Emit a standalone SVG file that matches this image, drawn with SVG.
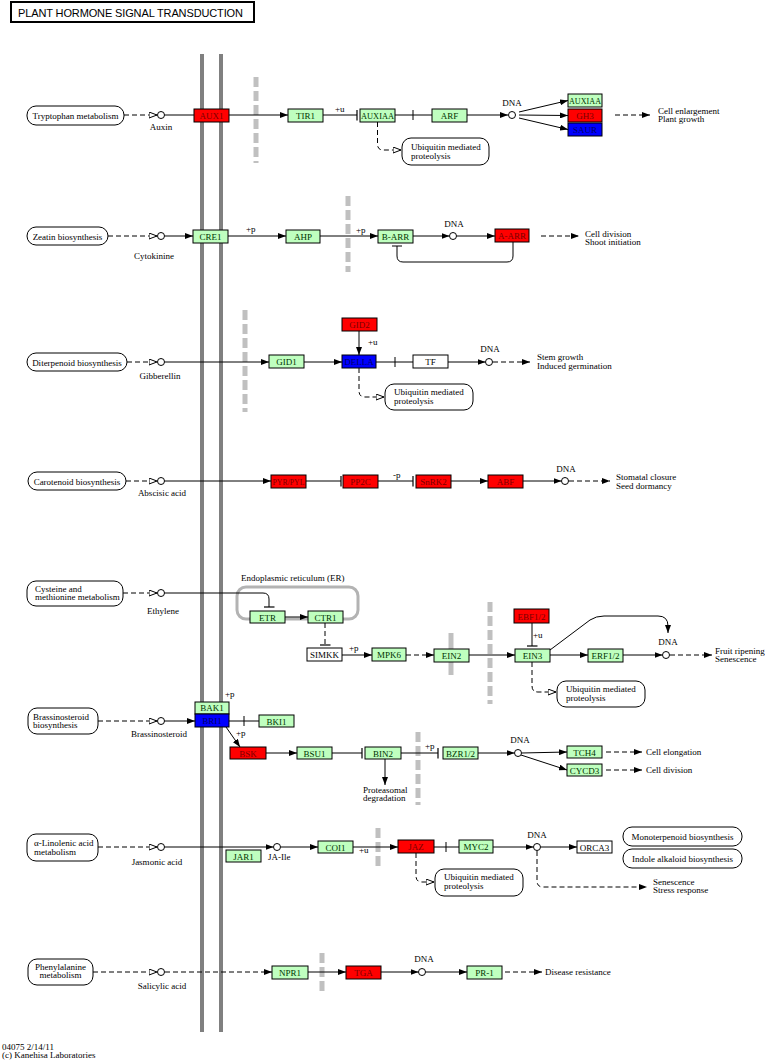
<svg xmlns="http://www.w3.org/2000/svg" width="765" height="1061" viewBox="0 0 765 1061">
<style>
text{font-family:"Liberation Serif","DejaVu Serif",serif;font-size:9px;fill:#000}
.c{text-anchor:middle}
.n{stroke:#000;stroke-width:1}
.g{fill:#bfffbf}.r{fill:#ff0000}.b{fill:#0000ff}.w{fill:#fff}
.tg{fill:#003300}.tr{fill:#7a0000}.tb{fill:#000066}
.m{fill:#fff;stroke:#000;stroke-width:1}
.l{stroke:#000;stroke-width:1;fill:none}
.d{stroke-dasharray:5 3}
.bar{stroke:#c0c0c0;stroke-width:5;stroke-dasharray:10 4;fill:none}
.sb{stroke:#c0c0c0;stroke-width:5;fill:none}
.mem{stroke:#808080;stroke-width:4}
.cp{fill:#fff;stroke:#000;stroke-width:1}
</style>
<defs>
<marker id="a" markerWidth="8" markerHeight="6" refX="8" refY="3" orient="auto" markerUnits="userSpaceOnUse"><path d="M0,0L8,3L0,6z" fill="#000"/></marker>
<marker id="o" markerWidth="9" markerHeight="7" refX="8.5" refY="3.5" orient="auto" markerUnits="userSpaceOnUse"><path d="M0.5,0.5L8.5,3.5L0.5,6.5z" fill="#fff" stroke="#000" stroke-width="1"/></marker>
<marker id="t" markerWidth="2" markerHeight="11" refX="1" refY="5.5" orient="auto" markerUnits="userSpaceOnUse"><path d="M1,0V11" stroke="#000" stroke-width="1.2"/></marker>
</defs>
<rect width="765" height="1061" fill="#fff"/>
<g id="title"><rect x="11" y="2" width="243" height="20" fill="#fff" stroke="#000" stroke-width="2"/><text x="18" y="16.5" style="font-family:'Liberation Sans',Arial,sans-serif;font-size:11px" textLength="225" lengthAdjust="spacing">PLANT HORMONE SIGNAL TRANSDUCTION</text></g>
<g id="membrane"><line class="mem" x1="202" y1="54" x2="202" y2="1032"/><line class="mem" x1="221" y1="54" x2="221" y2="1032"/></g>
<g id="barriers">
<line class="bar" x1="256" y1="77" x2="256" y2="163"/>
<line class="bar" x1="348" y1="196" x2="348" y2="272"/>
<line class="bar" x1="245" y1="310" x2="245" y2="412"/>
<line class="sb" x1="451" y1="633" x2="451" y2="675"/>
<line class="bar" x1="490" y1="602" x2="490" y2="704"/>
<line class="bar" x1="418" y1="732" x2="418" y2="805"/>
<line class="bar" x1="378" y1="828" x2="378" y2="868"/>
<line class="bar" x1="322" y1="953" x2="322" y2="993"/>
<rect x="237" y="587" width="121" height="32" rx="9" fill="none" stroke="#b3b3b3" stroke-width="3"/>
</g>
<g id="connectors">
<!-- row1 -->
<line class="l d" x1="124" y1="115" x2="157" y2="115" marker-end="url(#o)"/>
<line class="l" x1="164.5" y1="115" x2="288" y2="115" marker-end="url(#a)"/>
<line class="l" x1="323" y1="115" x2="357" y2="115" marker-end="url(#t)"/>
<line class="l" x1="395" y1="115" x2="432" y2="115"/><line class="l" x1="413" y1="110" x2="413" y2="120"/>
<line class="l" x1="467" y1="115" x2="508" y2="115" marker-end="url(#a)"/>
<line class="l" x1="519" y1="112" x2="568" y2="100.5" marker-end="url(#a)"/>
<line class="l" x1="519" y1="115" x2="568" y2="115.5" marker-end="url(#a)"/>
<line class="l" x1="519" y1="118" x2="568" y2="129.5" marker-end="url(#a)"/>
<line class="l d" x1="615" y1="115" x2="650" y2="115" marker-end="url(#a)"/>
<path class="l d" d="M377.5,122V144Q377.5,150 383,150H401" marker-end="url(#o)"/>
<!-- row2 -->
<line class="l d" x1="108" y1="236" x2="157" y2="236" marker-end="url(#o)"/>
<line class="l" x1="164.5" y1="236" x2="193" y2="236" marker-end="url(#a)"/>
<line class="l" x1="228" y1="236" x2="286" y2="236" marker-end="url(#a)"/>
<line class="l" x1="320" y1="236" x2="378" y2="236" marker-end="url(#a)"/>
<line class="l" x1="413" y1="236" x2="449.5" y2="236" marker-end="url(#a)"/>
<line class="l" x1="456.5" y1="236" x2="495" y2="236" marker-end="url(#a)"/>
<line class="l d" x1="541" y1="236" x2="579" y2="236" marker-end="url(#a)"/>
<path class="l" d="M513,242V256Q513,262 507,262H403Q397,262 397,256V246"/><line class="l" x1="392" y1="246" x2="402" y2="246"/>
<!-- row3 -->
<line class="l d" x1="127" y1="362" x2="157" y2="362" marker-end="url(#o)"/>
<line class="l" x1="164.5" y1="362" x2="269" y2="362" marker-end="url(#a)"/>
<line class="l" x1="304" y1="362" x2="342" y2="362" marker-end="url(#a)"/>
<line class="l" x1="359" y1="331" x2="359" y2="355" marker-end="url(#a)"/>
<line class="l" x1="376" y1="362" x2="413" y2="362"/><line class="l" x1="395" y1="357" x2="395" y2="367"/>
<line class="l" x1="448" y1="362" x2="485.5" y2="362" marker-end="url(#a)"/>
<line class="l d" x1="493" y1="362" x2="530" y2="362" marker-end="url(#a)"/>
<path class="l d" d="M359,368V391Q359,397 365,397H384" marker-end="url(#o)"/>
<!-- row4 -->
<line class="l d" x1="126" y1="481" x2="157" y2="481" marker-end="url(#o)"/>
<line class="l" x1="164.5" y1="481" x2="271" y2="481" marker-end="url(#a)"/>
<line class="l" x1="306" y1="481" x2="341" y2="481" marker-end="url(#t)"/>
<line class="l" x1="378" y1="481" x2="413" y2="481" marker-end="url(#t)"/>
<line class="l" x1="451" y1="481" x2="488" y2="481" marker-end="url(#a)"/>
<line class="l" x1="523" y1="481" x2="561.5" y2="481" marker-end="url(#a)"/>
<line class="l d" x1="569" y1="481" x2="610" y2="481" marker-end="url(#a)"/>
<!-- row5 -->
<line class="l d" x1="123" y1="593" x2="157" y2="593" marker-end="url(#o)"/>
<path class="l" d="M164.5,593H263Q269,593 269,599V607" marker-end="url(#t)"/>
<line class="l" x1="285" y1="617" x2="308" y2="617" stroke-width="2" marker-end="url(#a)"/>
<line class="l d" x1="325" y1="623" x2="325" y2="645" marker-end="url(#t)"/>
<line class="l" x1="342" y1="655" x2="372" y2="655" marker-end="url(#a)"/>
<line class="l d" x1="406" y1="655" x2="434" y2="655" marker-end="url(#a)"/>
<line class="l" x1="469" y1="655" x2="515" y2="655" marker-end="url(#a)"/>
<line class="l" x1="532" y1="623" x2="532" y2="646" marker-end="url(#t)"/>
<line class="l" x1="550" y1="655" x2="588" y2="655" marker-end="url(#a)"/>
<line class="l" x1="623" y1="655" x2="662.5" y2="655" marker-end="url(#a)"/>
<path class="l" d="M550,650L590,620Q596,616 604,616H658Q668,616 668,626V633" marker-end="url(#a)"/>
<line class="l d" x1="670" y1="655" x2="712" y2="655" marker-end="url(#a)"/>
<path class="l d" d="M532,662V686Q532,692 538,692H556" marker-end="url(#o)"/>
<!-- row6 -->
<line class="l d" x1="98" y1="721" x2="157" y2="721" marker-end="url(#o)"/>
<line class="l" x1="164.5" y1="721" x2="195" y2="721" marker-end="url(#a)"/>
<line class="l" x1="229" y1="721" x2="259" y2="721"/><line class="l" x1="244" y1="716" x2="244" y2="726"/>
<line class="l" x1="226" y1="727" x2="240" y2="747" marker-end="url(#a)"/>
<line class="l" x1="266" y1="753" x2="297" y2="753" marker-end="url(#a)"/>
<line class="l" x1="332" y1="753" x2="362" y2="753" marker-end="url(#t)"/>
<line class="l" x1="385" y1="759" x2="385" y2="785" marker-end="url(#a)"/>
<line class="l" x1="401" y1="753" x2="438" y2="753" marker-end="url(#t)"/>
<line class="l" x1="478" y1="753" x2="514.5" y2="753" marker-end="url(#a)"/>
<line class="l" x1="521.5" y1="753" x2="567" y2="752" marker-end="url(#a)"/>
<line class="l" x1="521" y1="755" x2="567" y2="770" marker-end="url(#a)"/>
<line class="l d" x1="606" y1="752" x2="642" y2="752" marker-end="url(#a)"/>
<line class="l d" x1="606" y1="770" x2="642" y2="770" marker-end="url(#a)"/>
<!-- row7 -->
<line class="l d" x1="98" y1="847" x2="157" y2="847" marker-end="url(#o)"/>
<line class="l" x1="164.5" y1="847" x2="273.5" y2="847" marker-end="url(#a)"/>
<line class="l" x1="280.5" y1="847" x2="318" y2="847" marker-end="url(#a)"/>
<line class="l" x1="353" y1="847" x2="398" y2="847" marker-end="url(#a)"/>
<line class="l" x1="434" y1="847" x2="459" y2="847"/><line class="l" x1="446" y1="842" x2="446" y2="852"/>
<line class="l" x1="493" y1="847" x2="533.5" y2="847" marker-end="url(#a)"/>
<line class="l" x1="540.5" y1="847" x2="577" y2="847" marker-end="url(#a)"/>
<path class="l d" d="M537,851V881Q537,887 543,887H647" marker-end="url(#a)"/>
<path class="l d" d="M416,853V876Q416,882 422,882H434" marker-end="url(#o)"/>
<!-- row8 -->
<line class="l d" x1="93" y1="972" x2="157" y2="972" marker-end="url(#o)"/>
<line class="l d" x1="165" y1="972" x2="272" y2="972" marker-end="url(#a)"/>
<line class="l" x1="308" y1="972" x2="346" y2="972" marker-end="url(#a)"/>
<line class="l" x1="381" y1="972" x2="418.5" y2="972" marker-end="url(#a)"/>
<line class="l" x1="425.5" y1="972" x2="467" y2="972" marker-end="url(#a)"/>
<line class="l d" x1="505" y1="972" x2="542" y2="972" marker-end="url(#a)"/>
</g>
<g id="compounds">
<circle class="cp" cx="161" cy="115" r="3.5"/><circle class="cp" cx="512" cy="115" r="3.5"/>
<circle class="cp" cx="161" cy="236" r="3.5"/><circle class="cp" cx="453" cy="236" r="3.5"/>
<circle class="cp" cx="161" cy="362" r="3.5"/><circle class="cp" cx="489" cy="362" r="3.5"/>
<circle class="cp" cx="161" cy="481" r="3.5"/><circle class="cp" cx="565" cy="481" r="3.5"/>
<circle class="cp" cx="161" cy="593" r="3.5"/><circle class="cp" cx="666" cy="655" r="3.5"/>
<circle class="cp" cx="161" cy="721" r="3.5"/><circle class="cp" cx="518" cy="753" r="3.5"/>
<circle class="cp" cx="161" cy="847" r="3.5"/><circle class="cp" cx="277" cy="847" r="3.5"/><circle class="cp" cx="537" cy="847" r="3.5"/>
<circle class="cp" cx="161" cy="972" r="3.5"/><circle class="cp" cx="422" cy="972" r="3.5"/>
</g>
<g id="labels">
<text class="c" x="161" y="130">Auxin</text><text class="c" x="512" y="106">DNA</text>
<text x="335" y="112">+u</text>
<text x="658" y="114">Cell enlargement</text><text x="658" y="122">Plant growth</text>
<text class="c" x="154" y="259">Cytokinine</text><text class="c" x="454" y="227">DNA</text>
<text x="246" y="232">+p</text><text x="356" y="233">+p</text>
<text x="585" y="237">Cell division</text><text x="585" y="245">Shoot initiation</text>
<text class="c" x="160" y="379">Gibberellin</text><text class="c" x="490" y="352">DNA</text>
<text x="368" y="345">+u</text>
<text x="537" y="360">Stem growth</text><text x="537" y="369">Induced germination</text>
<text class="c" x="162" y="496">Abscisic acid</text><text class="c" x="566" y="472">DNA</text>
<text x="393" y="478">-p</text>
<text x="616" y="480">Stomatal closure</text><text x="616" y="489">Seed dormancy</text>
<text class="c" x="163" y="614">Ethylene</text><text x="241" y="581">Endoplasmic reticulum (ER)</text>
<text x="349" y="651">+p</text><text x="533" y="638">+u</text><text class="c" x="668" y="645">DNA</text>
<text x="715" y="654">Fruit ripening</text><text x="715" y="662">Senescence</text>
<text class="c" x="159" y="737">Brassinosteroid</text><text x="225" y="697">+p</text><text x="236" y="736">+p</text>
<text x="363" y="793">Proteasomal</text><text x="363" y="801">degradation</text>
<text x="425" y="749">+p</text><text class="c" x="520" y="743">DNA</text>
<text x="646" y="755">Cell elongation</text><text x="646" y="773">Cell division</text>
<text class="c" x="157" y="865">Jasmonic acid</text><text x="268" y="860">JA-Ile</text>
<text x="359" y="853">+u</text><text class="c" x="537" y="838">DNA</text>
<text x="653" y="885">Senescence</text><text x="653" y="893">Stress response</text>
<text class="c" x="162" y="989">Salicylic acid</text><text class="c" x="424" y="962">DNA</text>
<text x="545" y="975">Disease resistance</text>
<text x="2" y="1050">04075 2/14/11</text><text x="2" y="1058">(c) Kanehisa Laboratories</text>
</g>
<g id="map_tryptophan"><rect class="m" x="27" y="106" width="97" height="19" rx="9"/><text class="c" x="75.5" y="118.5">Tryptophan metabolism</text></g>
<g id="map_ubq1"><rect class="m" x="402" y="138" width="87" height="27" rx="9"/><text x="411" y="150">Ubiquitin mediated</text><text x="411" y="159">proteolysis</text></g>
<g id="map_zeatin"><rect class="m" x="27" y="227" width="81" height="18" rx="9"/><text class="c" x="67.5" y="239.5">Zeatin biosynthesis</text></g>
<g id="map_diterpenoid"><rect class="m" x="27" y="353" width="100" height="18" rx="9"/><text class="c" x="77" y="365.5">Diterpenoid biosynthesis</text></g>
<g id="map_ubq2"><rect class="m" x="385" y="384" width="88" height="26" rx="9"/><text x="394" y="395">Ubiquitin mediated</text><text x="394" y="404">proteolysis</text></g>
<g id="map_carotenoid"><rect class="m" x="28" y="472" width="98" height="18" rx="9"/><text class="c" x="77" y="484.5">Carotenoid biosynthesis</text></g>
<g id="map_cysteine"><rect class="m" x="27" y="581" width="96" height="25" rx="9"/><text x="35" y="592">Cysteine and</text><text x="35" y="600">methionine metabolism</text></g>
<g id="map_ubq3"><rect class="m" x="557" y="681" width="88" height="26" rx="9"/><text x="566" y="692">Ubiquitin mediated</text><text x="566" y="701">proteolysis</text></g>
<g id="map_brassino"><rect class="m" x="28" y="708" width="70" height="26" rx="9"/><text x="33" y="720">Brassinosteroid</text><text x="33" y="728">biosynthesis</text></g>
<g id="map_linolenic"><rect class="m" x="27" y="834" width="71" height="27" rx="9"/><text x="34" y="846">α-Linolenic acid</text><text x="34" y="855">metabolism</text></g>
<g id="map_ubq4"><rect class="m" x="435" y="869" width="88" height="27" rx="9"/><text x="444" y="880">Ubiquitin mediated</text><text x="444" y="889">proteolysis</text></g>
<g id="map_monoterpenoid"><rect class="m" x="623" y="827" width="119" height="19" rx="9"/><text class="c" x="682.5" y="839.5">Monoterpenoid biosynthesis</text></g>
<g id="map_indole"><rect class="m" x="623" y="849" width="119" height="19" rx="9"/><text class="c" x="682.5" y="861.5">Indole alkaloid biosynthesis</text></g>
<g id="map_phenylalanine"><rect class="m" x="28" y="959" width="65" height="26" rx="9"/><text class="c" x="60.5" y="970">Phenylalanine</text><text class="c" x="60.5" y="978">metabolism</text></g>
<g id="AUX1"><rect class="n r" x="194" y="109" width="35" height="13"/><text class="c tr" x="211.5" y="119">AUX1</text></g>
<g id="TIR1"><rect class="n g" x="288" y="109" width="35" height="13"/><text class="c tg" x="305.5" y="119">TIR1</text></g>
<g id="AUXIAA1"><rect class="n g" x="360" y="109" width="35" height="13"/><text class="c tg" x="377.5" y="119" textLength="33" lengthAdjust="spacingAndGlyphs">AUXIAA</text></g>
<g id="ARF"><rect class="n g" x="432" y="109" width="35" height="13"/><text class="c tg" x="449.5" y="119">ARF</text></g>
<g id="AUXIAA2"><rect class="n g" x="568" y="94" width="34" height="13"/><text class="c tg" x="585" y="104" textLength="32" lengthAdjust="spacingAndGlyphs">AUXIAA</text></g>
<g id="GH3"><rect class="n r" x="568" y="109" width="34" height="13"/><text class="c tr" x="585" y="119">GH3</text></g>
<g id="SAUR"><rect class="n b" x="568" y="123" width="34" height="13"/><text class="c tb" x="585" y="133">SAUR</text></g>
<g id="CRE1"><rect class="n g" x="193" y="230" width="35" height="13"/><text class="c tg" x="210.5" y="240">CRE1</text></g>
<g id="AHP"><rect class="n g" x="286" y="230" width="34" height="13"/><text class="c tg" x="303" y="240">AHP</text></g>
<g id="B-ARR"><rect class="n g" x="378" y="230" width="35" height="13"/><text class="c tg" x="395.5" y="240">B-ARR</text></g>
<g id="A-ARR"><rect class="n r" x="495" y="229" width="34" height="13"/><text class="c tr" x="512" y="239">A-ARR</text></g>
<g id="GID1"><rect class="n g" x="269" y="355" width="35" height="13"/><text class="c tg" x="286.5" y="365">GID1</text></g>
<g id="GID2"><rect class="n r" x="342" y="318" width="35" height="13"/><text class="c tr" x="359.5" y="328">GID2</text></g>
<g id="DELLA"><rect class="n b" x="342" y="355" width="34" height="13"/><text class="c tb" x="359" y="365">DELLA</text></g>
<g id="TF"><rect class="n w" x="413" y="355" width="35" height="13"/><text class="c" x="430.5" y="365">TF</text></g>
<g id="PYR_PYL"><rect class="n r" x="271" y="475" width="35" height="13"/><text class="c tr" x="288.5" y="485" textLength="32" lengthAdjust="spacingAndGlyphs">PYR/PYL</text></g>
<g id="PP2C"><rect class="n r" x="343" y="475" width="35" height="13"/><text class="c tr" x="360.5" y="485">PP2C</text></g>
<g id="SnRK2"><rect class="n r" x="416" y="475" width="35" height="13"/><text class="c tr" x="433.5" y="485">SnRK2</text></g>
<g id="ABF"><rect class="n r" x="488" y="475" width="35" height="13"/><text class="c tr" x="505.5" y="485">ABF</text></g>
<g id="ETR"><rect class="n g" x="250" y="611" width="35" height="12"/><text class="c tg" x="267.5" y="620.5">ETR</text></g>
<g id="CTR1"><rect class="n g" x="308" y="611" width="35" height="12"/><text class="c tg" x="325.5" y="620.5">CTR1</text></g>
<g id="SIMKK"><rect class="n w" x="307" y="648" width="35" height="13"/><text class="c" x="324.5" y="658">SIMKK</text></g>
<g id="MPK6"><rect class="n g" x="372" y="648" width="34" height="13"/><text class="c tg" x="389" y="658">MPK6</text></g>
<g id="EIN2"><rect class="n g" x="434" y="649" width="35" height="13"/><text class="c tg" x="451.5" y="659">EIN2</text></g>
<g id="EIN3"><rect class="n g" x="515" y="649" width="35" height="13"/><text class="c tg" x="532.5" y="659">EIN3</text></g>
<g id="EBF1_2"><rect class="n r" x="514" y="609" width="35" height="14"/><text class="c tr" x="531.5" y="619.5">EBF1/2</text></g>
<g id="ERF1_2"><rect class="n g" x="588" y="649" width="35" height="13"/><text class="c tg" x="605.5" y="659">ERF1/2</text></g>
<g id="BAK1"><rect class="n g" x="195" y="702" width="34" height="12"/><text class="c tg" x="212" y="711">BAK1</text></g>
<g id="BRI1"><rect class="n b" x="195" y="714" width="34" height="13"/><text class="c tb" x="212" y="724">BRI1</text></g>
<g id="BKI1"><rect class="n g" x="259" y="715" width="35" height="12"/><text class="c tg" x="276.5" y="724.5">BKI1</text></g>
<g id="BSK"><rect class="n r" x="230" y="747" width="36" height="12"/><text class="c tr" x="248" y="756.5">BSK</text></g>
<g id="BSU1"><rect class="n g" x="297" y="747" width="35" height="12"/><text class="c tg" x="314.5" y="756.5">BSU1</text></g>
<g id="BIN2"><rect class="n g" x="365" y="747" width="36" height="12"/><text class="c tg" x="383" y="756.5">BIN2</text></g>
<g id="BZR1_2"><rect class="n g" x="443" y="747" width="35" height="12"/><text class="c tg" x="460.5" y="756.5">BZR1/2</text></g>
<g id="TCH4"><rect class="n g" x="567" y="746" width="35" height="12"/><text class="c tg" x="584.5" y="755.5">TCH4</text></g>
<g id="CYCD3"><rect class="n g" x="567" y="764" width="35" height="12"/><text class="c tg" x="584.5" y="773.5">CYCD3</text></g>
<g id="JAR1"><rect class="n g" x="226" y="850" width="35" height="12"/><text class="c tg" x="243.5" y="859.5">JAR1</text></g>
<g id="COI1"><rect class="n g" x="318" y="841" width="35" height="12"/><text class="c tg" x="335.5" y="850.5">COI1</text></g>
<g id="JAZ"><rect class="n r" x="398" y="840" width="36" height="13"/><text class="c tr" x="416" y="850">JAZ</text></g>
<g id="MYC2"><rect class="n g" x="459" y="840" width="34" height="13"/><text class="c tg" x="476" y="850">MYC2</text></g>
<g id="ORCA3"><rect class="n w" x="577" y="841" width="35" height="12"/><text class="c" x="594.5" y="850.5">ORCA3</text></g>
<g id="NPR1"><rect class="n g" x="272" y="966" width="36" height="13"/><text class="c tg" x="290" y="976">NPR1</text></g>
<g id="TGA"><rect class="n r" x="346" y="966" width="35" height="13"/><text class="c tr" x="363.5" y="976">TGA</text></g>
<g id="PR-1"><rect class="n g" x="467" y="966" width="35" height="13"/><text class="c tg" x="484.5" y="976">PR-1</text></g>
</svg>
